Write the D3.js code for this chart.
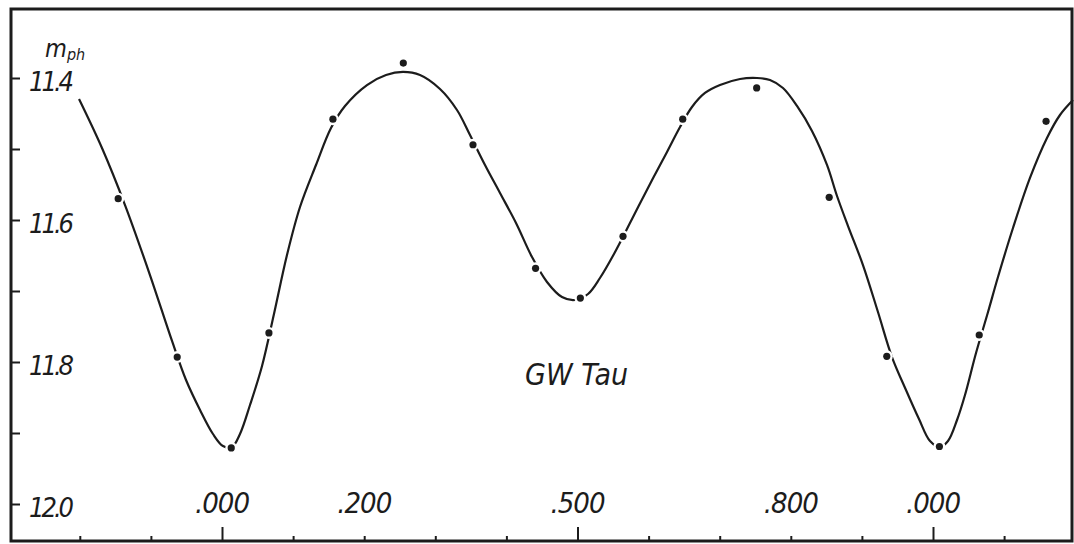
<!DOCTYPE html>
<html>
<head>
<meta charset="utf-8">
<script src="https://cdn.jsdelivr.net/npm/d3@7"></script>
<style>
  body { margin: 0; background: #fff; }
  text { font-family: "DejaVu Sans Condensed", "DejaVu Sans", sans-serif; font-stretch: condensed; font-style: oblique; fill: #1c1c1c; }
</style>
</head>
<body>
<div class="center"></div>
<script>
// observed points (phase, m_ph)
var obsPhase = [-0.146, -0.063, 0.013, 0.066, 0.156, 0.255, 0.353, 0.441, 0.504,
                0.564, 0.648, 0.752, 0.854, 0.935, 1.009, 1.065, 1.159];
var obsMag = [11.570, 11.793, 11.921, 11.759, 11.458, 11.379, 11.494, 11.668, 11.710,
              11.623, 11.458, 11.414, 11.568, 11.792, 11.919, 11.762, 11.461];

// hand drawn light curve
var curvePhase = [-0.2011, -0.1688, -0.1364, -0.1013, -0.0703, -0.0506, -0.0309, -0.0127,
                  0.0014, 0.0141, 0.0253, 0.0394, 0.0563, 0.0731, 0.0914, 0.1097, 0.1322,
                  0.1533, 0.1730, 0.2039, 0.2307, 0.2546, 0.2785, 0.3066, 0.3305, 0.3488,
                  0.3699, 0.3910, 0.4135, 0.4360, 0.4571, 0.4782, 0.4965, 0.5148, 0.5316,
                  0.5513, 0.5767, 0.6020, 0.6259, 0.6442, 0.6610, 0.6793, 0.7004, 0.7286,
                  0.7525, 0.7707, 0.7890, 0.8087, 0.8298, 0.8509, 0.8650, 0.8805, 0.9015,
                  0.9226, 0.9423, 0.9620, 0.9803, 0.9958, 1.0098, 1.0211, 1.0338, 1.0450,
                  1.0605, 1.0774, 1.0914, 1.1125, 1.1364, 1.1603, 1.1786, 1.1969];
var curveMag = [11.4296, 11.4986, 11.5789, 11.6775, 11.7704, 11.8254, 11.8676, 11.9014,
                11.9183, 11.9197, 11.9014, 11.8606, 11.8056, 11.7324, 11.6493, 11.5817, 11.5225,
                11.4704, 11.4394, 11.4099, 11.3958, 11.3915, 11.3958, 11.4155, 11.4451, 11.4803,
                11.5225, 11.5620, 11.6042, 11.6521, 11.6873, 11.7085, 11.7127, 11.7042, 11.6817,
                11.6479, 11.5986, 11.5493, 11.5042, 11.4690, 11.4408, 11.4211, 11.4099, 11.4014,
                11.4000, 11.4028, 11.4141, 11.4394, 11.4746, 11.5225, 11.5662, 11.6085, 11.6634,
                11.7296, 11.7930, 11.8394, 11.8803, 11.9113, 11.9197, 11.9113, 11.8817, 11.8465,
                11.7873, 11.7296, 11.6803, 11.6113, 11.5408, 11.4845, 11.4521, 11.4310];

// ticks and labels
var xMinorTicks = [-0.2, -0.1, 0.1, 0.2, 0.3, 0.4, 0.6, 0.7, 0.8, 0.9, 1.1];
var xMajorTicks = [0, 0.5, 1.0];
var xLabelPhase = [0, 0.2, 0.5, 0.8, 1.0];
var xLabels = [".000", ".200", ".500", ".800", ".000"];
var yTicks = [11.4, 11.5, 11.6, 11.7, 11.8, 11.9, 12.0];
var yLabelValues = [11.4, 11.6, 11.8, 12.0];
var yLabels = ["11.4", "11.6", "11.8", "12.0"];
var starName = "GW Tau";

var W = 1074, H = 544;
var frame = {left: 11, top: 9, right: 1072, bottom: 541};

// scales (magnitudes grow downward)
var x = d3.scaleLinear().domain([0, 1]).range([222, 933]);
var y = d3.scaleLinear().domain([11.4, 12.0]).range([78, 504]);

var svg = d3.select(".center").append("svg")
    .attr("width", W)
    .attr("height", H);

svg.append("rect")
    .attr("width", W).attr("height", H)
    .attr("fill", "#fff");

// frame
svg.append("rect")
    .attr("x", frame.left)
    .attr("y", frame.top)
    .attr("width", frame.right - frame.left)
    .attr("height", frame.bottom - frame.top)
    .attr("fill", "none")
    .attr("stroke", "#1c1c1c")
    .attr("stroke-width", 3);

// bottom ticks pointing inward
function styleAxis(g) {
    g.select(".domain").remove();
    g.selectAll("line").attr("stroke", "#1c1c1c").attr("stroke-width", 2);
}
svg.append("g")
    .attr("transform", "translate(0," + frame.bottom + ")")
    .call(d3.axisBottom(x).tickValues(xMinorTicks).tickSize(-5).tickFormat(""))
    .call(styleAxis);
svg.append("g")
    .attr("transform", "translate(0," + frame.bottom + ")")
    .call(d3.axisBottom(x).tickValues(xMajorTicks).tickSize(-14).tickFormat(""))
    .call(styleAxis);

// left ticks pointing inward
svg.append("g")
    .attr("transform", "translate(" + frame.left + ",0)")
    .call(d3.axisLeft(y).tickValues(yTicks).tickSize(-9).tickFormat(""))
    .call(styleAxis);

// tick labels
svg.selectAll(".xlab")
    .data(xLabelPhase)
    .enter().append("text")
    .attr("class", "xlab")
    .attr("x", function(d) { return x(d); })
    .attr("y", 513)
    .attr("text-anchor", "middle")
    .attr("font-size", "29px")
    .attr("letter-spacing", "-1px")
    .text(function(d, i) { return xLabels[i]; });

svg.selectAll(".ylab")
    .data(yLabelValues)
    .enter().append("text")
    .attr("class", "ylab")
    .attr("x", 29)
    .attr("y", function(d) { return y(d) + 13; })
    .attr("font-size", "27px")
    .attr("letter-spacing", "-3px")
    .text(function(d, i) { return yLabels[i]; });

// axis title m_ph
var title = svg.append("text")
    .attr("x", 45)
    .attr("y", 57)
    .attr("font-size", "25px");
title.append("tspan").text("m");
title.append("tspan")
    .attr("font-size", "16px")
    .attr("dy", 3)
    .text("ph");

// star name
svg.append("text")
    .attr("x", 525)
    .attr("y", 385)
    .attr("font-size", "30px")
    .text(starName);

// light curve
var curve = curvePhase.map(function(p, i) { return [p, curveMag[i]]; });
var line = d3.line()
    .x(function(d) { return x(d[0]); })
    .y(function(d) { return y(d[1]); })
    .curve(d3.curveCatmullRom.alpha(0.5));

svg.append("path")
    .datum(curve)
    .attr("d", line)
    .attr("fill", "none")
    .attr("stroke", "#1c1c1c")
    .attr("stroke-width", 2.2);

// observations, with a small gap in the curve around each dot
var obs = obsPhase.map(function(p, i) { return [p, obsMag[i]]; });
svg.selectAll(".gap")
    .data(obs)
    .enter().append("circle")
    .attr("class", "gap")
    .attr("cx", function(d) { return x(d[0]); })
    .attr("cy", function(d) { return y(d[1]); })
    .attr("r", 6)
    .attr("fill", "#fff");

svg.selectAll(".dot")
    .data(obs)
    .enter().append("circle")
    .attr("class", "dot")
    .attr("cx", function(d) { return x(d[0]); })
    .attr("cy", function(d) { return y(d[1]); })
    .attr("r", 3.6)
    .attr("fill", "#1c1c1c");
</script>
</body>
</html>
